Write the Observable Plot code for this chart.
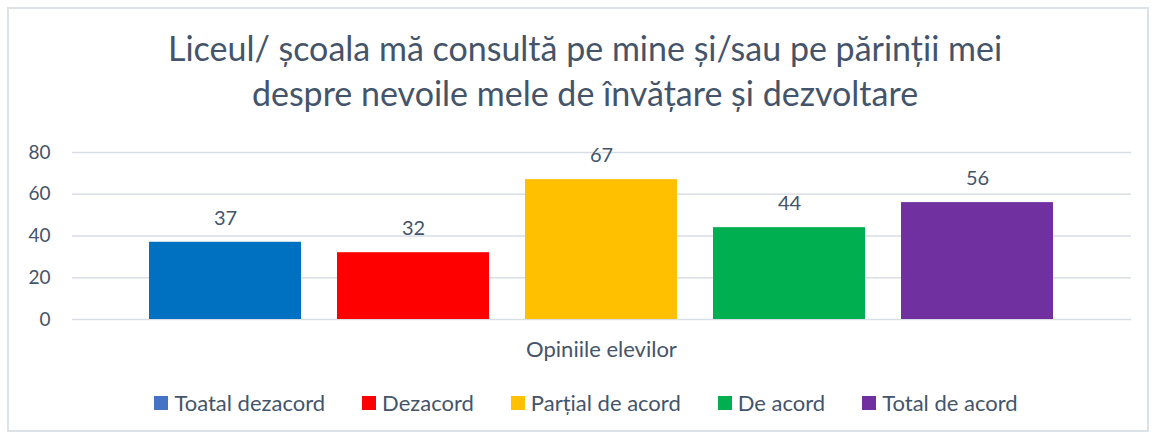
<!DOCTYPE html>
<html>
<head>
<meta charset="utf-8">
<script src="https://cdn.jsdelivr.net/npm/d3@7"></script>
<script src="https://cdn.jsdelivr.net/npm/@observablehq/plot@0.6"></script>
<style>
  html, body { margin: 0; padding: 0; background: #fff; }
  body { width: 1154px; height: 437px; position: relative; overflow: hidden; font-family: "Lato", sans-serif; color: #44546A; }
  #frame { position: absolute; left: 7px; top: 7px; width: 1138px; height: 421px; border: 2px solid #DDE2E9; box-sizing: content-box; }
  #title { position: absolute; left: 0; top: 25px; width: 1170px; text-align: center; font-size: 34px; line-height: 45px; white-space: nowrap; }
  #chart { position: absolute; left: 0; top: 130px; }
  #xlabel { position: absolute; left: 0; top: 336px; width: 1203px; text-align: center; font-size: 22px; line-height: 26px; }
  #legend { position: absolute; left: 0; top: 389px; width: 1172px; display: flex; justify-content: center; gap: 37px; font-size: 22px; line-height: 28px; }
  .item { display: flex; align-items: center; }
  .sw { width: 14px; height: 14px; margin-right: 6px; display: inline-block; }
</style>
</head>
<body>
<div id="frame"></div>
<div id="title"></div>
<div id="chart"></div>
<div id="xlabel"></div>
<div id="legend"></div>
<script>
const titleLines = ["Liceul/ școala mă consultă pe mine și/sau pe părinții mei", "despre nevoile mele de învățare și dezvoltare"];
const groupLabel = "Opiniile elevilor";
const categories = ["Toatal dezacord", "Dezacord", "Parțial de acord", "De acord", "Total de acord"];
const values = [37, 32, 67, 44, 56];
const colors = ["#0070C0", "#FF0000", "#FFC000", "#00B050", "#7030A0"];
const swatchColors = ["#4472C4", "#FF0000", "#FFC000", "#00B050", "#7030A0"];
const yTicks = [0, 20, 40, 60, 80];

const data = categories.map((c, i) => ({category: c, value: values[i]}));

document.getElementById("title").innerHTML = titleLines.join("<br>");
document.getElementById("xlabel").textContent = groupLabel;

const chart = Plot.plot({
  width: 1154,
  height: 240,
  marginTop: 22,
  marginBottom: 51,
  marginLeft: 72,
  marginRight: 23,
  style: {fontFamily: "Lato, sans-serif", fontSize: "19px", color: "#44546A", background: "transparent"},
  x: {domain: categories, paddingInner: 36 / 189, paddingOuter: 0.4, axis: null},
  y: {domain: [0, 80], label: null},
  color: {domain: categories, range: colors},
  marks: [
    Plot.ruleY(yTicks, {stroke: "#D9DEE6", strokeWidth: 1.5}),
    Plot.axisY(yTicks, {tickSize: 0, tickPadding: 22, label: null, fontSize: 19, fill: "#44546A"}),
    Plot.barY(data, {x: "category", y: "value", fill: "category"}),
    Plot.text(data, {x: "category", y: "value", text: d => String(d.value), dy: -24, fontSize: 20, fill: "#44546A"})
  ]
});
document.getElementById("chart").appendChild(chart);

const legend = document.getElementById("legend");
categories.forEach((c, i) => {
  const item = document.createElement("div");
  item.className = "item";
  const sw = document.createElement("span");
  sw.className = "sw";
  sw.style.background = swatchColors[i];
  const tx = document.createElement("span");
  tx.textContent = c;
  item.appendChild(sw);
  item.appendChild(tx);
  legend.appendChild(item);
});
</script>
</body>
</html>
